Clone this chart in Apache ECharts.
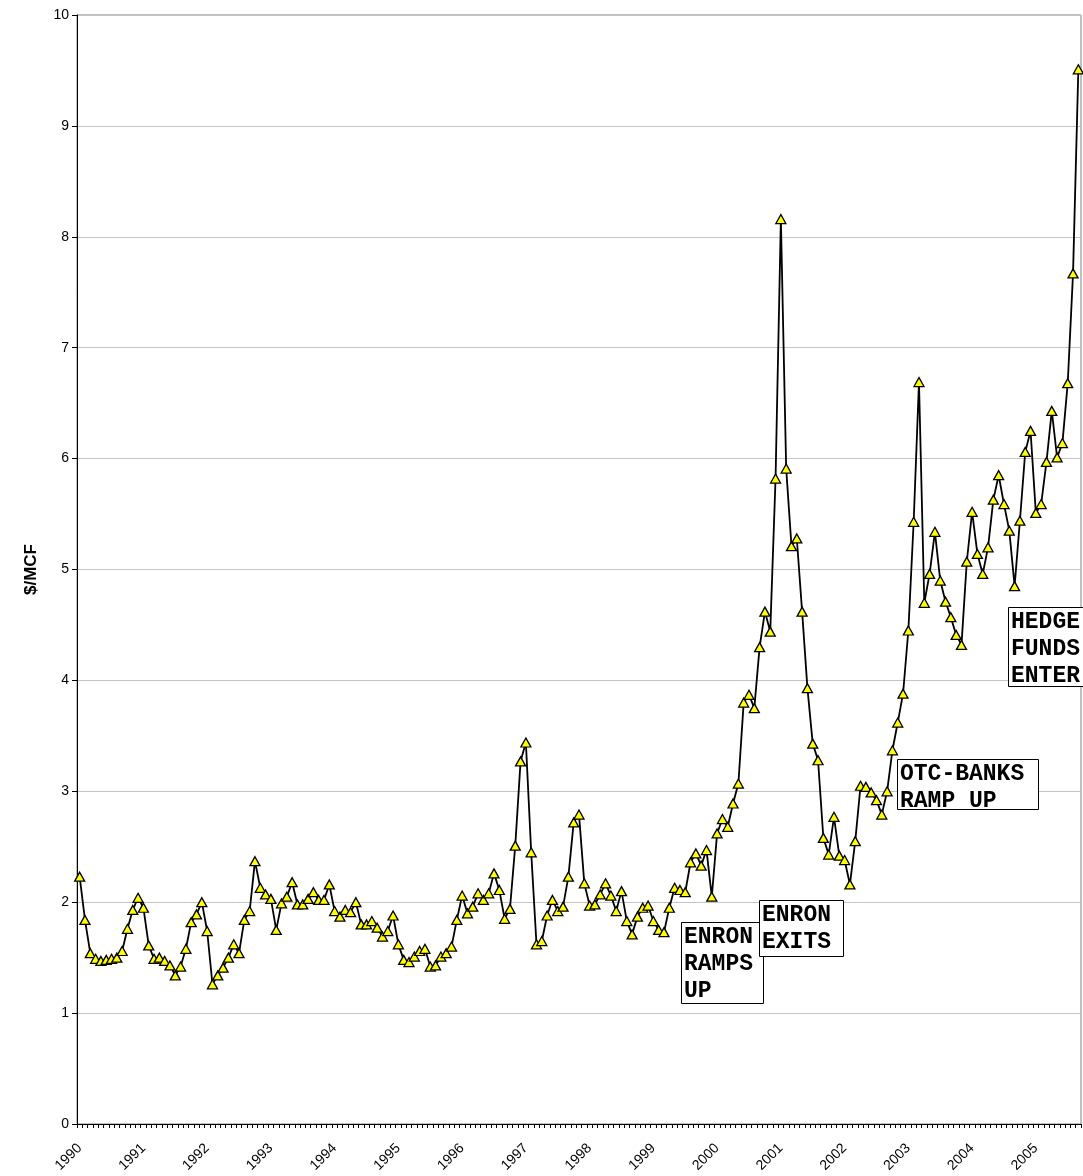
<!DOCTYPE html>
<html>
<head>
    <meta charset="UTF-8">
    <title>$/MCF 1990-2005</title>
    <script type="text/javascript" src="https://cdn.jsdelivr.net/npm/echarts@6/dist/echarts.min.js"></script>
</head>
<body style="margin: 0;overflow: hidden;background: #fff;">
<div id="chart" style="width: 1083px;height: 1176px;"></div>
<script type="text/javascript">
    // year labels on the x axis, one every 12 months
    var years = ['1990', '1991', '1992', '1993', '1994', '1995', '1996', '1997',
        '1998', '1999', '2000', '2001', '2002', '2003', '2004', '2005'];

    // monthly price, $/MCF, Jan 1990 onward
    var prices = [
        2.23, 1.84, 1.54, 1.49, 1.47, 1.48, 1.49, 1.50, 1.56, 1.76, 1.93, 2.04,
        1.95, 1.61, 1.49, 1.50, 1.47, 1.43, 1.34, 1.42, 1.58, 1.82, 1.89, 2.00,
        1.74, 1.26, 1.34, 1.41, 1.50, 1.62, 1.54, 1.84, 1.92, 2.37, 2.13, 2.07,
        2.03, 1.75, 1.99, 2.05, 2.18, 1.98, 1.98, 2.03, 2.09, 2.02, 2.02, 2.16,
        1.92, 1.87, 1.93, 1.91, 2.00, 1.80, 1.80, 1.83, 1.77, 1.69, 1.74, 1.88,
        1.62, 1.48, 1.46, 1.51, 1.56, 1.58, 1.42, 1.43, 1.51, 1.54, 1.60, 1.84,
        2.06, 1.90, 1.96, 2.08, 2.02, 2.08, 2.26, 2.11, 1.85, 1.94, 2.51, 3.27,
        3.44, 2.45, 1.62, 1.65, 1.88, 2.02, 1.92, 1.96, 2.23, 2.72, 2.79, 2.17,
        1.97, 1.98, 2.07, 2.17, 2.06, 1.92, 2.10, 1.83, 1.71, 1.87, 1.95, 1.97,
        1.83, 1.75, 1.73, 1.95, 2.13, 2.11, 2.09, 2.36, 2.44, 2.33, 2.47, 2.05,
        2.62, 2.75, 2.68, 2.89, 3.07, 3.80, 3.87, 3.75, 4.30, 4.62, 4.44, 5.82,
        8.16, 5.91, 5.21, 5.28, 4.62, 3.93, 3.43, 3.28, 2.58, 2.43, 2.77, 2.42,
        2.38, 2.16, 2.55, 3.05, 3.04, 2.99, 2.92, 2.79, 3.00, 3.37, 3.62, 3.88,
        4.45, 5.43, 6.69, 4.70, 4.96, 5.34, 4.90, 4.71, 4.57, 4.41, 4.32, 5.07,
        5.52, 5.14, 4.96, 5.20, 5.63, 5.85, 5.59, 5.35, 4.85, 5.44, 6.06, 6.25,
        5.51, 5.59, 5.97, 6.43, 6.01, 6.14, 6.68, 7.67, 9.51
    ];

    // category per month, labelled by its year
    var months = [];
    for (var i = 0; i < prices.length; i++) {
        months.push(years[Math.floor(i / 12)] + '-' + ('0' + (i % 12 + 1)).slice(-2));
    }

    var notes = [
        {text: 'ENRON\nRAMPS\nUP', x: 681, y: 922, w: 82, h: 81},
        {text: 'ENRON\nEXITS', x: 759, y: 900, w: 84, h: 56},
        {text: 'OTC-BANKS\nRAMP UP', x: 897, y: 759, w: 141, h: 50},
        {text: 'HEDGE\nFUNDS\nENTER', x: 1008, y: 607, w: 80, h: 79}
    ];

    var graphics = [];
    notes.forEach(function (n) {
        graphics.push({
            type: 'rect',
            z: 100,
            shape: {x: n.x + 0.5, y: n.y + 0.5, width: n.w, height: n.h},
            style: {fill: '#fff', stroke: '#000', lineWidth: 1}
        });
        graphics.push({
            type: 'text',
            z: 101,
            style: {
                x: n.x + 3, y: n.y + 2,
                text: n.text,
                fill: '#000',
                font: 'bold 23px "Liberation Mono", "Courier New", monospace',
                lineHeight: 27,
                verticalAlign: 'top'
            }
        });
    });

    var chart = echarts.init(document.getElementById('chart'), null, {renderer: 'canvas'});
    var option = {
        animation: false,
        backgroundColor: '#fff',
        textStyle: {fontFamily: '"Liberation Sans", Arial, sans-serif'},
        grid: {
            left: 77, right: 2, top: 15, bottom: 52,
            show: true, borderColor: '#808080', borderWidth: 1
        },
        xAxis: {
            type: 'category',
            data: months,
            boundaryGap: true,
            axisLine: {lineStyle: {color: '#000', width: 1}},
            axisTick: {show: true, interval: 0, length: 4, lineStyle: {color: '#000'}},
            axisLabel: {
                interval: 11,
                rotate: 45,
                fontSize: 14,
                color: '#000',
                margin: 22,
                formatter: function (v) {
                    return v.slice(0, 4);
                }
            },
            splitLine: {show: false}
        },
        yAxis: {
            type: 'value',
            min: 0,
            max: 10,
            interval: 1,
            name: '$/MCF',
            nameLocation: 'middle',
            nameGap: 37,
            nameTextStyle: {fontWeight: 'bold', fontSize: 17, color: '#000'},
            axisLine: {show: true, lineStyle: {color: '#000', width: 1}},
            axisTick: {show: true, length: 5, lineStyle: {color: '#000'}},
            axisLabel: {fontSize: 14, color: '#000', margin: 8},
            splitLine: {lineStyle: {color: '#c4c4c4', width: 1}}
        },
        series: [{
            type: 'line',
            data: prices,
            showAllSymbol: true,
            symbol: 'triangle',
            symbolSize: [10, 9],
            itemStyle: {color: '#ffff00', borderColor: '#000', borderWidth: 1.3},
            lineStyle: {color: '#000', width: 1.8}
        }],
        graphic: graphics
    };
    chart.setOption(option);
</script>
</body>
</html>
